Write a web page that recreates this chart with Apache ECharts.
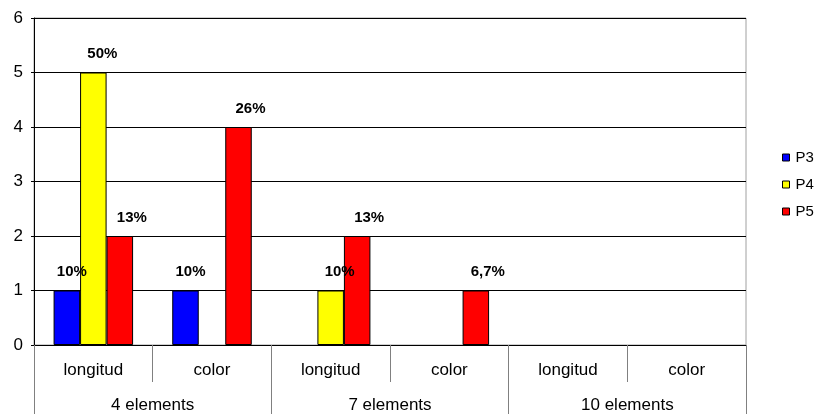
<!DOCTYPE html>
<html>
<head>
<meta charset="utf-8">
<script src="https://cdn.jsdelivr.net/npm/echarts@6/dist/echarts.min.js"></script>
<style>html,body{margin:0;padding:0;background:#fff}#c{width:822px;height:414px}</style>
</head>
<body>
<div id="c"></div>
<script>
const subCategories = ["longitud", "color", "longitud", "color", "longitud", "color"];
const groupCategories = ["4 elements", "7 elements", "10 elements"];
const seriesNames = ["P3", "P4", "P5"];
const p3Values = [1, 1, 0, 0, 0, 0];
const p4Values = [5, 0, 1, 0, 0, 0];
const p5Values = [2, 4, 2, 1, 0, 0];
const p3Labels = ["10%", "10%", "", "", "", ""];
const p4Labels = ["50%", "", "10%", "", "", ""];
const p5Labels = ["13%", "26%", "13%", "6,7%", "", ""];
const yTicks = [0, 1, 2, 3, 4, 5, 6];

const FONT = "Liberation Sans, Arial, sans-serif";
const colors = ["#0000FF", "#FFFF00", "#FF0000"];
const labelOffsets = [5, 9, 12];
const values = [p3Values, p4Values, p5Values];
const labels = [p3Labels, p4Labels, p5Labels];

const chart = echarts.init(document.getElementById('c'), null, {renderer: 'canvas'});
chart.setOption({
  animation: false,
  backgroundColor: '#fff',
  textStyle: {fontFamily: FONT},
  grid: {left: 34, right: 76, top: 18, bottom: 69, containLabel: false,
         show: true, borderColor: '#a0a0a0', borderWidth: 1, backgroundColor: 'transparent'},
  legend: {
    orient: 'vertical', left: 782, top: 150, padding: 0,
    icon: 'rect', itemWidth: 7, itemHeight: 7, itemGap: 12,
    data: seriesNames,
    textStyle: {fontFamily: FONT, fontSize: 15, color: '#000', lineHeight: 15, padding: [0, 0, 0, 1]},
    itemStyle: {borderColor: '#000', borderWidth: 1}
  },
  xAxis: [
    {
      type: 'category', data: subCategories, position: 'bottom',
      axisLine: {show: true, lineStyle: {color: '#000', width: 1}},
      axisTick: {show: true, interval: 0, length: 37, lineStyle: {color: '#808080'}},
      axisLabel: {interval: 0, margin: 17, fontFamily: FONT, fontSize: 17, color: '#000'}
    },
    {
      type: 'category', data: groupCategories, position: 'bottom',
      axisLine: {show: false},
      axisTick: {show: true, interval: 0, length: 69, lineStyle: {color: '#808080'}},
      axisLabel: {interval: 0, margin: 52, fontFamily: FONT, fontSize: 17, color: '#000'}
    }
  ],
  yAxis: {
    type: 'value', min: 0, max: 6, interval: 1,
    axisLine: {show: true, lineStyle: {color: '#000'}},
    axisTick: {show: true, length: 3, lineStyle: {color: '#000'}},
    axisLabel: {margin: 11, fontFamily: FONT, fontSize: 17, color: '#000',
                formatter: v => yTicks.includes(v) ? String(v) : ''},
    splitLine: {show: true, lineStyle: {color: '#000', width: 1}}
  },
  series: seriesNames.map((name, si) => ({
    name: name, type: 'bar', xAxisIndex: 0,
    data: values[si].map(v => v === 0 ? null : v),
    barGap: '0%', barCategoryGap: '33%',
    itemStyle: {color: colors[si], borderColor: '#000', borderWidth: 1},
    label: {
      show: true, position: 'top', distance: 11, offset: [labelOffsets[si], 0],
      fontFamily: FONT, fontSize: 15, fontWeight: 'bold', color: '#000',
      formatter: p => labels[si][p.dataIndex]
    }
  }))
});
</script>
</body>
</html>
